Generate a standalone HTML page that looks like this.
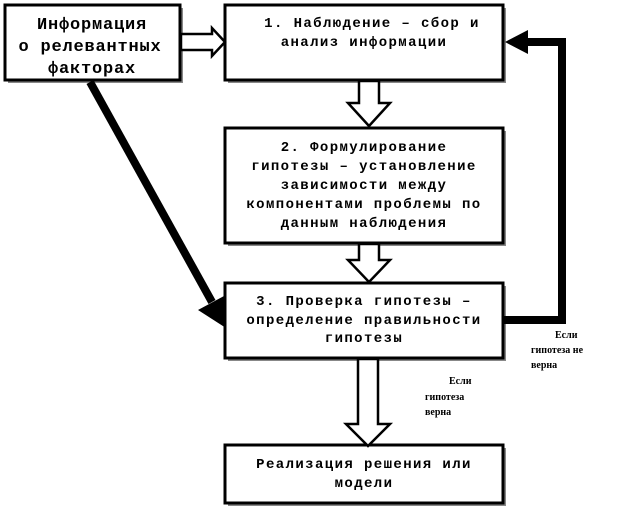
<!DOCTYPE html>
<html><head><meta charset="utf-8"><style>
body{margin:0;background:#fff;width:621px;height:510px;overflow:hidden}
svg text{font-family:"Liberation Mono","DejaVu Sans Mono",monospace;font-weight:bold;font-size:14px;letter-spacing:1.4px;fill:#000}
</style></head><body>
<svg width="621" height="510" viewBox="0 0 621 510">
<g fill="#888">
<rect x="8" y="8" width="175" height="75"/>
<rect x="228" y="8" width="278" height="75"/>
<rect x="228" y="131" width="278" height="115"/>
<rect x="228" y="286" width="278" height="75"/>
<rect x="228" y="448" width="278" height="58"/>
</g>
<g fill="#fff" stroke="#000" stroke-width="3">
<rect x="5" y="5" width="175" height="75"/>
<rect x="225" y="5" width="278" height="75"/>
<rect x="225" y="128" width="278" height="115"/>
<rect x="225" y="283" width="278" height="75"/>
<rect x="225" y="445" width="278" height="58"/>
</g>
<g fill="#fff" stroke="#000" stroke-width="2.5" stroke-linejoin="miter">
<polygon points="181,34 212,34 212,28 225,42 212,56 212,50 181,50"/>
<polygon points="359,81 379,81 379,103 390,103 369,126 348,103 359,103"/>
<polygon points="359,244 379,244 379,260 390,260 369,282 348,260 359,260"/>
<polygon points="358,359 378,359 378,424 390,424 368,446 346,424 358,424"/>
</g>
<line x1="90" y1="82" x2="212" y2="302" stroke="#000" stroke-width="8"/>
<polygon points="198,310 224,296 226,328" fill="#000"/>
<polyline points="503,320 562,320 562,42 525,42" fill="none" stroke="#000" stroke-width="8"/>
<polygon points="505,42 528,30 528,54" fill="#000"/>
<g text-anchor="middle">
<text x="92" y="29" style="font-size:17px;letter-spacing:0.8px">Информация</text>
<text x="90" y="51" style="font-size:17px;letter-spacing:0.8px">о релевантных</text>
<text x="92" y="73" style="font-size:17px;letter-spacing:0.8px">факторах</text>
<text x="372" y="27">1. Наблюдение – сбор и</text>
<text x="364" y="46">анализ информации</text>
<text x="364" y="151">2. Формулирование</text>
<text x="364" y="170">гипотезы – установление</text>
<text x="364" y="189">зависимости между</text>
<text x="364" y="208">компонентами проблемы по</text>
<text x="364" y="227">данным наблюдения</text>
<text x="364" y="305">3. Проверка гипотезы –</text>
<text x="364" y="324">определение правильности</text>
<text x="364" y="342">гипотезы</text>
<text x="364" y="468">Реализация решения или</text>
<text x="364" y="487">модели</text>
</g>
<g style="font-family:'Liberation Serif',serif;font-size:10px">
<text x="555" y="338" style="font-family:'Liberation Serif',serif;font-size:10px;letter-spacing:0">Если</text>
<text x="531" y="353" style="font-family:'Liberation Serif',serif;font-size:10px;letter-spacing:0">гипотеза не</text>
<text x="531" y="368" style="font-family:'Liberation Serif',serif;font-size:10px;letter-spacing:0">верна</text>
<text x="449" y="384" style="font-family:'Liberation Serif',serif;font-size:10px;letter-spacing:0">Если</text>
<text x="425" y="400" style="font-family:'Liberation Serif',serif;font-size:10px;letter-spacing:0">гипотеза</text>
<text x="425" y="415" style="font-family:'Liberation Serif',serif;font-size:10px;letter-spacing:0">верна</text>
</g>
</svg>
</body></html>
